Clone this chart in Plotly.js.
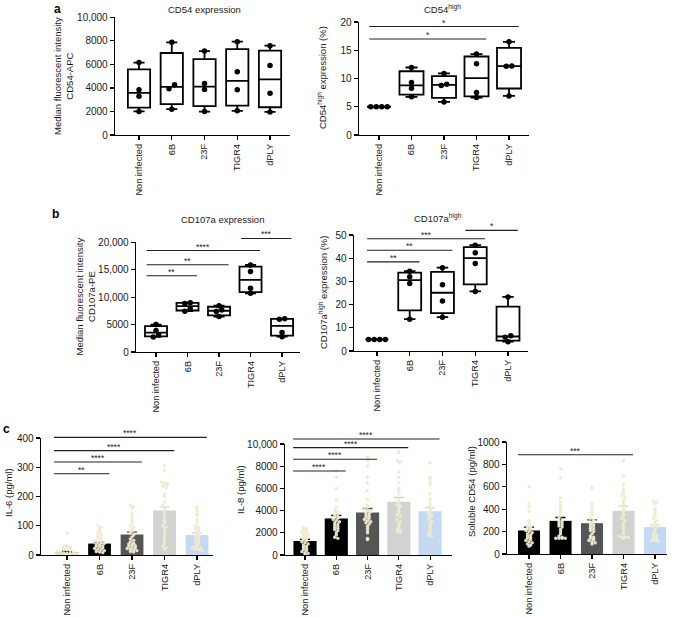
<!DOCTYPE html>
<html><head><meta charset="utf-8">
<script src="https://cdn.plot.ly/plotly-3.0.1.min.js"></script>
<style>html,body{margin:0;padding:0;background:#fff}#chart{width:677px;height:617px}</style>
</head><body><div id="chart"></div>
<script>
const W = 677, H = 617;
const groups = ['Non infected', '6B', '23F', 'TIGR4', 'dPLY'];

// ---- Panel a: CD54 (4 donors per group) ----
const cd54Mfi = [[2000, 3300, 3850, 6150], [2190, 3920, 4260, 7870], [1990, 3860, 4370, 7130], [2050, 3840, 5370, 7930], [1960, 3550, 5910, 7590]];
const cd54High = [[5, 5, 5, 5], [6.75, 8.28, 9.29, 11.95], [5.86, 8.76, 9.0, 10.89], [6.63, 7.51, 12.6, 14.32], [6.92, 12.15, 12.2, 16.5]];
// ---- Panel b: CD107a ----
const cd107aMfi = [[2750, 3150, 3900, 5000], [7450, 7900, 8850, 9000], [6450, 7400, 7650, 8450], [10700, 11620, 14660, 15880], [2800, 3550, 5950, 6050]];
const cd107aHigh = [[5, 5, 5, 5], [13.7, 29.1, 32.0, 34.4], [14.6, 21.6, 28.6, 35.9], [25.7, 37.7, 42.3, 45.6], [4.0, 5.9, 6.6, 23.3]];

// ---- Panel c: cytokines (mean, SEM, individual values) ----
const il6Mean = [9, 39, 70, 152, 68];
const il6Sem = [3, 4, 8, 12, 7];
const il6Points = [
  [75, 32, 28, 30, 25, 22, 18, 15, 12, 10, 8, 6, 5, 4, 3, 2, 2, 1, 1, 0.5, 0.5, 8, 5, 3, 2],
  [100, 95, 90, 82, 75, 70, 64, 60, 55, 50, 48, 45, 42, 40, 38, 35, 32, 30, 28, 25, 22, 20, 18, 15, 12, 10, 8],
  [170, 165, 160, 140, 130, 120, 110, 100, 95, 90, 82, 75, 68, 62, 55, 50, 45, 40, 38, 35, 32, 30, 28, 25, 22, 20, 18, 15, 12, 10],
  [305, 290, 250, 248, 245, 240, 238, 235, 230, 210, 200, 180, 170, 165, 160, 150, 140, 130, 120, 115, 110, 100, 95, 90, 80, 70, 60, 50, 40, 30, 25, 20],
  [165, 160, 150, 140, 135, 120, 110, 100, 95, 90, 85, 80, 75, 70, 65, 60, 55, 50, 45, 40, 35, 30, 28, 25, 22, 20, 18, 15]
];
const il8Mean = [1260, 3290, 3830, 4790, 3950];
const il8Sem = [140, 270, 360, 390, 330];
const il8Points = [
  [2500, 2400, 2300, 2200, 2100, 2000, 1900, 1800, 1700, 1600, 1500, 1400, 1300, 1200, 1100, 1000, 900, 800, 700, 600, 500, 400, 300, 200, 150, 100],
  [7600, 7000, 6000, 5000, 4300, 4000, 3900, 3800, 3600, 3500, 3400, 3300, 3200, 3100, 3000, 2900, 2800, 2700, 2600, 2500, 2400, 2300, 2200, 2000, 1800, 1600, 1500],
  [8800, 8500, 8000, 7000, 6500, 5800, 5000, 4500, 4300, 4100, 4000, 3900, 3800, 3700, 3600, 3500, 3400, 3300, 3200, 3100, 3000, 2900, 2800, 2600, 2400, 2200, 2000, 1500, 1400],
  [9300, 9200, 8500, 8400, 8300, 7500, 7000, 6500, 6000, 5800, 5500, 5000, 4800, 4600, 4500, 4400, 4200, 4000, 3800, 3600, 3500, 3200, 3000, 2800, 2600, 2400, 2300, 2200, 2100, 2000],
  [8300, 7000, 6800, 6500, 6300, 5500, 5000, 4700, 4500, 4300, 4200, 4000, 3800, 3700, 3600, 3500, 3400, 3200, 3000, 2800, 2600, 2400, 2200, 2000, 1800, 1700]
];
const sCd54Mean = [210, 296, 275, 386, 240];
const sCd54Sem = [30, 30, 30, 42, 20];
const sCd54Points = [
  [600, 450, 420, 380, 300, 280, 260, 250, 240, 230, 220, 210, 200, 190, 180, 170, 160, 150, 140, 130, 120, 110, 100, 90, 80, 70],
  [760, 680, 500, 460, 440, 420, 400, 380, 360, 340, 320, 300, 290, 280, 270, 260, 250, 240, 220, 200, 180, 160, 150, 140, 140, 140, 140],
  [600, 580, 450, 420, 400, 380, 350, 320, 300, 280, 270, 260, 250, 240, 230, 220, 210, 200, 180, 160, 150, 140, 130, 120, 110, 100, 90],
  [830, 700, 620, 580, 560, 540, 520, 500, 480, 460, 440, 420, 400, 380, 360, 340, 320, 300, 280, 260, 240, 220, 200, 180, 160, 150, 150, 150, 140],
  [470, 460, 450, 400, 380, 360, 340, 320, 300, 280, 260, 250, 240, 220, 200, 180, 170, 160, 150, 140, 130, 120, 120, 110]
];

// ---- significance comparisons (group indices, bracket level, label) ----
const sigCd54HighFrom = [0, 0], sigCd54HighTo = [4, 3], sigCd54HighLevel = [19.2, 17.0], sigCd54HighLabel = ['*', '*'];
const sigCd107aMfiFrom = [3, 0, 0, 0], sigCd107aMfiTo = [4, 3, 2, 1], sigCd107aMfiLevel = [20700, 18500, 15900, 13900], sigCd107aMfiLabel = ['***', '****', '**', '**'];
const sigCd107aHighFrom = [3, 0, 0, 0], sigCd107aHighTo = [4, 3, 2, 1], sigCd107aHighLevel = [52, 48.4, 43.4, 38.4], sigCd107aHighLabel = ['*', '***', '**', '**'];
const sigIl6From = [0, 0, 0, 0], sigIl6To = [4, 3, 2, 1], sigIl6Level = [402, 357, 318, 278], sigIl6Label = ['****', '****', '****', '**'];
const sigIl8From = [0, 0, 0, 0], sigIl8To = [4, 3, 2, 1], sigIl8Level = [10450, 9670, 8620, 7570], sigIl8Label = ['****', '****', '****', '****'];
const sigSCd54From = [0], sigSCd54To = [3], sigSCd54Level = [886], sigSCd54Label = ['***'];

const barColors = ['#000000', '#000000', '#555555', '#d2d2d2', '#c4d9f2'];

// ---- layout geometry (pixels) ----
const P = [
  {px: [115, 290], xr: [-0.733, 4.61], py: [17.3, 135], yr: [0, 10000], tv: [0, 2000, 4000, 6000, 8000, 10000], tt: ['0', '2000', '4000', '6000', '8000', '10,000']},
  {px: [359, 529], xr: [-0.615, 4.615], py: [22, 135], yr: [0, 20], tv: [0, 5, 10, 15, 20]},
  {px: [136, 300], xr: [-0.635, 4.57], py: [242.3, 352], yr: [0, 20000], tv: [0, 5000, 10000, 15000, 20000], tt: ['0', '5000', '10,000', '15,000', '20,000']},
  {px: [354, 528], xr: [-0.70, 4.61], py: [235, 351], yr: [0, 50], tv: [0, 10, 20, 30, 40, 50]},
  {px: [41, 213], xr: [-0.8, 4.49], py: [438, 555], yr: [0, 400], tv: [0, 100, 200, 300, 400]},
  {px: [285, 452], xr: [-0.64, 4.7], py: [444, 555], yr: [0, 10000], tv: [0, 2000, 4000, 6000, 8000, 10000], tt: ['0', '2000', '4000', '6000', '8000', '10,000']},
  {px: [507, 667], xr: [-0.7, 4.38], py: [442, 554], yr: [0, 1000], tv: [0, 200, 400, 600, 800, 1000], tt: ['0', '200', '400', '600', '800', '1000']}
];

const FONT = 'Liberation Sans, Arial, Helvetica, sans-serif';
const TXT = '#1a1a1a';
const layout = {
  width: W, height: H, margin: {l: 0, r: 0, t: 0, b: 0},
  paper_bgcolor: '#fff', plot_bgcolor: 'rgba(0,0,0,0)', showlegend: false,
  font: {family: FONT, size: 10, color: TXT},
  shapes: [], annotations: []
};

P.forEach((p, i) => {
  const n = i === 0 ? '' : String(i + 1);
  layout['xaxis' + n] = {
    domain: [p.px[0] / W, p.px[1] / W], range: p.xr, anchor: 'y' + n,
    tickvals: [0, 1, 2, 3, 4], ticktext: groups, tickangle: -90,
    ticks: 'outside', ticklen: 4, tickwidth: 1.2, tickcolor: '#000',
    showline: true, linecolor: '#000', linewidth: 1.3, showgrid: false, zeroline: false,
    tickfont: {size: 9.2, family: FONT, color: TXT}, fixedrange: true
  };
  layout['yaxis' + n] = {
    domain: [1 - p.py[1] / H, 1 - p.py[0] / H], range: p.yr, anchor: 'x' + n,
    tickvals: p.tv, ticktext: p.tt || p.tv.map(String),
    ticks: 'outside', ticklen: 4, tickwidth: 1.2, tickcolor: '#000',
    showline: true, linecolor: '#000', linewidth: 1.3, showgrid: false, zeroline: false,
    tickfont: {size: 10, family: FONT, color: TXT}, fixedrange: true
  };
});

function xPx(p, v) { return p.px[0] + (v - p.xr[0]) / (p.xr[1] - p.xr[0]) * (p.px[1] - p.px[0]); }
function yPx(p, v) { return p.py[1] - (v - p.yr[0]) / (p.yr[1] - p.yr[0]) * (p.py[1] - p.py[0]); }

function prismStats(arr) {
  const s = [...arr].sort((a, b) => a - b), n = s.length;
  const q = f => { const pos = f * (n + 1); if (pos <= 1) return s[0]; if (pos >= n) return s[n - 1]; const lo = Math.floor(pos), fr = pos - lo; return s[lo - 1] + fr * (s[lo] - s[lo - 1]); };
  return {q1: q(0.25), med: q(0.5), q3: q(0.75), min: s[0], max: s[n - 1]};
}

// horizontal spread for overlapping dots (positions computed, not data)
function clusterOffsets(vals, thr, step) {
  const idx = vals.map((v, i) => i).sort((a, b) => vals[a] - vals[b]);
  const off = new Array(vals.length).fill(0);
  let cl = [idx[0]];
  const flush = () => { const k = cl.length; cl.forEach((id, j) => { off[id] = (j - (k - 1) / 2) * step; }); };
  for (let j = 1; j < idx.length; j++) {
    if (vals[idx[j]] - vals[cl[cl.length - 1]] < thr) cl.push(idx[j]); else { flush(); cl = [idx[j]]; }
  }
  flush();
  return off;
}
function binOffsets(vals, bin, step, maxOff) {
  const bins = {};
  vals.forEach((v, i) => { const b = Math.round(v / bin); (bins[b] = bins[b] || []).push(i); });
  const off = new Array(vals.length).fill(0);
  Object.values(bins).forEach(list => {
    const k = list.length; let st = step;
    if (k > 1 && (k - 1) * st > 2 * maxOff) st = 2 * maxOff / (k - 1);
    list.forEach((id, j) => { off[id] = (j - (k - 1) / 2) * st; });
  });
  return off;
}

const data = [];
function boxPanel(pi, vals, boxW) {
  const n = pi === 0 ? '' : String(pi + 1);
  const p = P[pi];
  const st = vals.map(prismStats);
  data.push({
    type: 'box', xaxis: 'x' + n, yaxis: 'y' + n, x: [0, 1, 2, 3, 4],
    q1: st.map(s => s.q1), median: st.map(s => s.med), q3: st.map(s => s.q3),
    lowerfence: st.map(s => s.min), upperfence: st.map(s => s.max),
    width: boxW, whiskerwidth: 0.5, boxpoints: false,
    line: {color: '#000', width: 1.8}, fillcolor: 'rgba(255,255,255,1)', hoverinfo: 'skip'
  });
  const xs = [], ys = [];
  const thr = (p.yr[1] - p.yr[0]) * 0.035;
  vals.forEach((g, gi) => {
    const off = clusterOffsets(g, thr, 0.17);
    g.forEach((v, k) => { xs.push(gi + off[k]); ys.push(v); });
  });
  data.push({type: 'scatter', mode: 'markers', xaxis: 'x' + n, yaxis: 'y' + n, x: xs, y: ys,
    marker: {color: '#000', size: 5.5}, cliponaxis: false, hoverinfo: 'skip'});
}
function barPanel(pi, means, sems, pts, barW) {
  const n = pi === 0 ? '' : String(pi + 1);
  const p = P[pi];
  means.forEach((m, gi) => {
    data.push({type: 'bar', xaxis: 'x' + n, yaxis: 'y' + n, x: [gi], y: [m], width: barW,
      marker: {color: barColors[gi], line: {width: 0}},
      error_y: {type: 'data', array: [sems[gi]], arrayminus: [sems[gi]], color: gi < 2 ? '#000' : barColors[gi], thickness: 1.3, width: 5},
      hoverinfo: 'skip'});
  });
  const xs = [], ys = [];
  pts.forEach((g, gi) => {
    const off = binOffsets(g, (p.yr[1] - p.yr[0]) / 45, 0.1, 0.33);
    g.forEach((v, k) => { xs.push(gi + off[k]); ys.push(v); });
  });
  data.push({type: 'scatter', mode: 'markers', xaxis: 'x' + n, yaxis: 'y' + n, x: xs, y: ys,
    marker: {color: 'rgba(239,234,208,0.95)', size: 3.4, line: {width: 0}}, hoverinfo: 'skip'});
}

function sig(pi, from, to, level, label, lo, hi) {
  const p = P[pi];
  from.forEach((f, k) => {
    const x0 = xPx(p, f - lo), x1 = xPx(p, to[k] + hi), y = yPx(p, level[k]);
    layout.shapes.push({type: 'line', xref: 'paper', yref: 'paper', x0: x0 / W, x1: x1 / W, y0: 1 - y / H, y1: 1 - y / H,
      line: {color: '#222', width: 1.1}});
    layout.annotations.push({xref: 'paper', yref: 'paper', x: (x0 + x1) / 2 / W, y: 1 - y / H, text: label[k],
      showarrow: false, xanchor: 'center', yanchor: 'bottom', yshift: -3, font: {size: 8.5, color: '#222', family: FONT}});
  });
}

boxPanel(0, cd54Mfi, 0.68);
boxPanel(1, cd54High, 0.74);
boxPanel(2, cd107aMfi, 0.70);
boxPanel(3, cd107aHigh, 0.70);
barPanel(4, il6Mean, il6Sem, il6Points, 0.70);
barPanel(5, il8Mean, il8Sem, il8Points, 0.74);
barPanel(6, sCd54Mean, sCd54Sem, sCd54Points, 0.70);

sig(1, sigCd54HighFrom, sigCd54HighTo, sigCd54HighLevel, sigCd54HighLabel, 0.3, 0.3);
sig(2, sigCd107aMfiFrom, sigCd107aMfiTo, sigCd107aMfiLevel, sigCd107aMfiLabel, 0.3, 0.3);
sig(3, sigCd107aHighFrom, sigCd107aHighTo, sigCd107aHighLevel, sigCd107aHighLabel, 0.3, 0.3);
sig(4, sigIl6From, sigIl6To, sigIl6Level, sigIl6Label, 0.4, 0.3);
sig(5, sigIl8From, sigIl8To, sigIl8Level, sigIl8Label, 0.38, 0.3);
sig(6, sigSCd54From, sigSCd54To, sigSCd54Level, sigSCd54Label, 0.35, 0.3);

function ann(x, y, text, opts) {
  layout.annotations.push(Object.assign({xref: 'paper', yref: 'paper', x: x / W, y: 1 - y / H, text: text, showarrow: false,
    xanchor: 'center', yanchor: 'middle', font: {size: 9.5, color: TXT, family: FONT}}, opts || {}));
}
// panel titles
ann(205, 10, 'CD54 expression');
ann(442, 9, 'CD54<sup>high</sup>');
ann(222, 219, 'CD107a expression');
ann(438, 218, 'CD107a<sup>high</sup>');
// y-axis titles
ann(64, 76, 'Median fluorescent intensity<br>CD54-APC', {textangle: -90});
ann(322, 78, 'CD54<sup>high</sup> expression (%)', {textangle: -90});
ann(84.5, 297, 'Median fluorescent intensity<br>CD107a-PE', {textangle: -90});
ann(323, 293, 'CD107a<sup>high</sup> expression (%)', {textangle: -90});
ann(9, 493, 'IL-6 (pg/ml)', {textangle: -90});
ann(240, 490, 'IL-8 (pg/ml)', {textangle: -90});
ann(471, 492, 'Soluble CD54 (pg/ml)', {textangle: -90});
// panel letters
ann(57, 9, '<b>a</b>', {font: {size: 12, color: '#000', family: FONT}});
ann(55, 214, '<b>b</b>', {font: {size: 12, color: '#000', family: FONT}});
ann(6, 429, '<b>c</b>', {font: {size: 12, color: '#000', family: FONT}});

Plotly.newPlot('chart', data, layout, {staticPlot: true, displayModeBar: false});
</script>
</body></html>
